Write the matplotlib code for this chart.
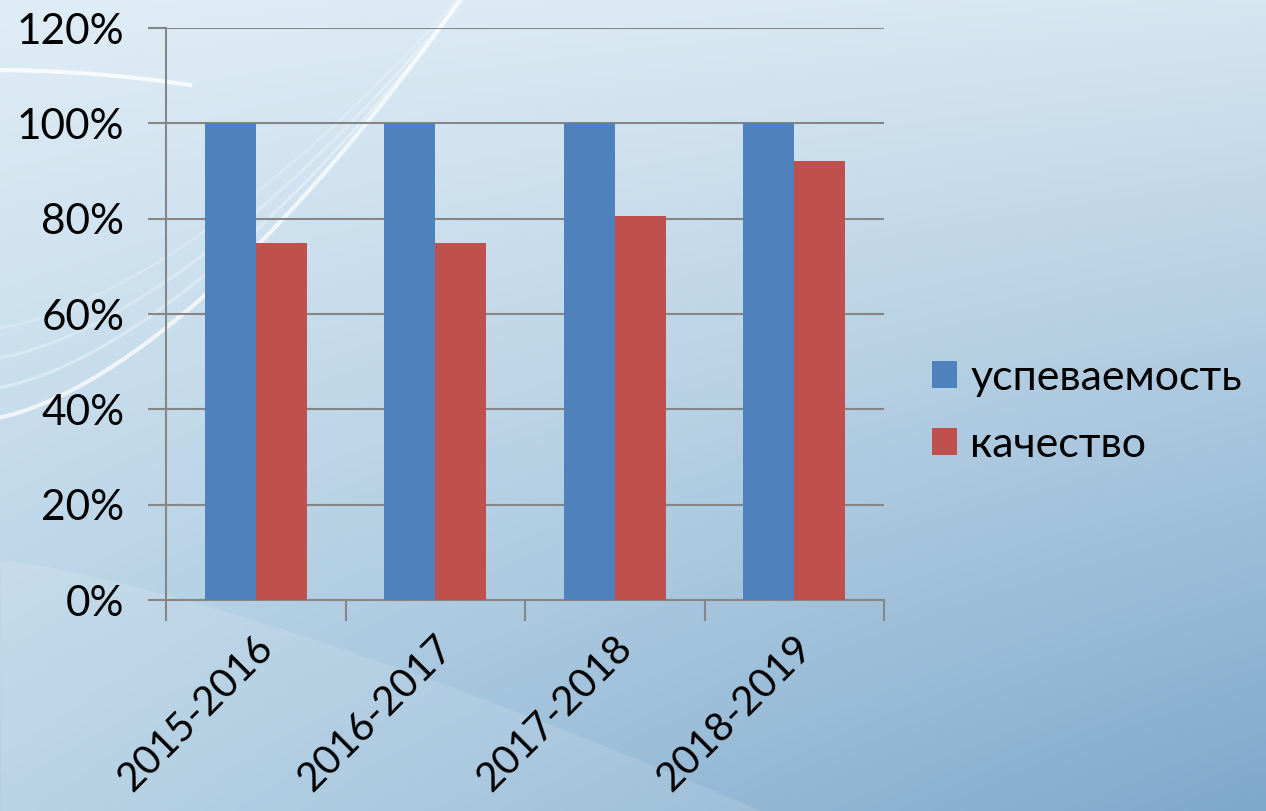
import numpy as np
import matplotlib
matplotlib.use("Agg")
import matplotlib.pyplot as plt
import matplotlib.transforms as mtransforms
from matplotlib.ticker import FuncFormatter

categories = ["2015-2016", "2016-2017", "2017-2018", "2018-2019"]
uspevaemost = [100, 100, 100, 100]
kachestvo = [75.0, 74.8, 80.5, 92.0]
series_names = ["успеваемость", "качество"]
yticks = [0, 20, 40, 60, 80, 100, 120]

plt.rcParams['font.family'] = ['Lato', 'DejaVu Sans']

W, H = 1266, 811
fig = plt.figure(figsize=(W / 100, H / 100), dpi=100)

# background gradient
bg = fig.add_axes([0, 0, 1, 1], zorder=-10)
ny, nx = 200, 300
yy, xx = np.mgrid[0:1:ny * 1j, 0:1:nx * 1j]
tl = np.array([0xe0, 0xed, 0xf6]) / 255
tr = np.array([0xd6, 0xe6, 0xf1]) / 255
bl = np.array([0xb0, 0xce, 0xe3]) / 255
br = np.array([0x7e, 0xa8, 0xcb]) / 255
img = (tl * ((1 - xx) * (1 - yy))[..., None] + tr * (xx * (1 - yy))[..., None]
       + bl * ((1 - xx) * yy)[..., None] + br * (xx * yy)[..., None])
bg.imshow(img, extent=[0, W, H, 0], aspect='auto')
# faint decorative swooshes
t = np.linspace(0, 1, 300)
for k, (a, lw) in enumerate([(0.7, 3), (0.35, 2), (0.3, 2), (0.25, 1.5)]):
    xs = -20 + (480 + 25 * k) * t
    ys = 420 - 30 * k - 420 * t**1.6
    bg.plot(xs, ys, color='white', alpha=a, lw=lw)
bg.plot(-10 + 200 * t, 70 + 15 * t**2, color='white', alpha=0.8, lw=3)
xs2 = np.linspace(0, W * 0.6, 300)
bg.fill_between(xs2, H, 560 + 250 * (xs2 / (W * 0.6))**1.3, color='white', alpha=0.12, lw=0)
bg.set_xlim(0, W)
bg.set_ylim(H, 0)
bg.axis('off')

ax = fig.add_axes([166 / W, 1 - 600 / H, (884 - 166) / W, (600 - 28) / H])
ax.set_facecolor('none')

x = np.arange(len(categories))
w = 0.285
ax.bar(x - w / 2, uspevaemost, w, color='#4F81BD', label=series_names[0], zorder=3)
ax.bar(x + w / 2, kachestvo, w, color='#C0504D', label=series_names[1], zorder=3)

ax.set_xlim(-0.5, len(categories) - 0.5)
ax.set_ylim(0, 120)
ax.set_yticks(yticks)
ax.yaxis.set_major_formatter(FuncFormatter(lambda v, p: f"{int(v)}%"))
ax.grid(axis='y', color='#868686', lw=1.5, zorder=0)

for s in ['top', 'right']:
    ax.spines[s].set_visible(False)
for s in ['left', 'bottom']:
    ax.spines[s].set_color('#868686')
    ax.spines[s].set_linewidth(1.5)

fs = 30.5
ax.tick_params(axis='y', length=13, width=1.5, color='#868686', labelsize=fs, pad=17)
ax.set_xticks(np.arange(len(categories) + 1) - 0.5, minor=True)
ax.set_xticks(x)
ax.set_xticklabels(categories, rotation=45, ha='right', va='top', rotation_mode='anchor', fontsize=29)
ax.tick_params(axis='x', which='major', length=0, pad=21)
ax.tick_params(axis='x', which='minor', length=15, width=1.5, color='#868686')
offset = mtransforms.ScaledTranslation(-2 / 100, 0, fig.dpi_scale_trans)
for lab in ax.get_xticklabels():
    lab.set_transform(lab.get_transform() + offset)

leg = fig.legend(loc='upper left', bbox_to_anchor=(910 / W, 1 - 337 / H), frameon=False,
                 fontsize=31, handlelength=0.6, handleheight=0.6, handletextpad=0.3,
                 labelspacing=0.68, borderpad=0)

fig.savefig('out.png', dpi=100)
